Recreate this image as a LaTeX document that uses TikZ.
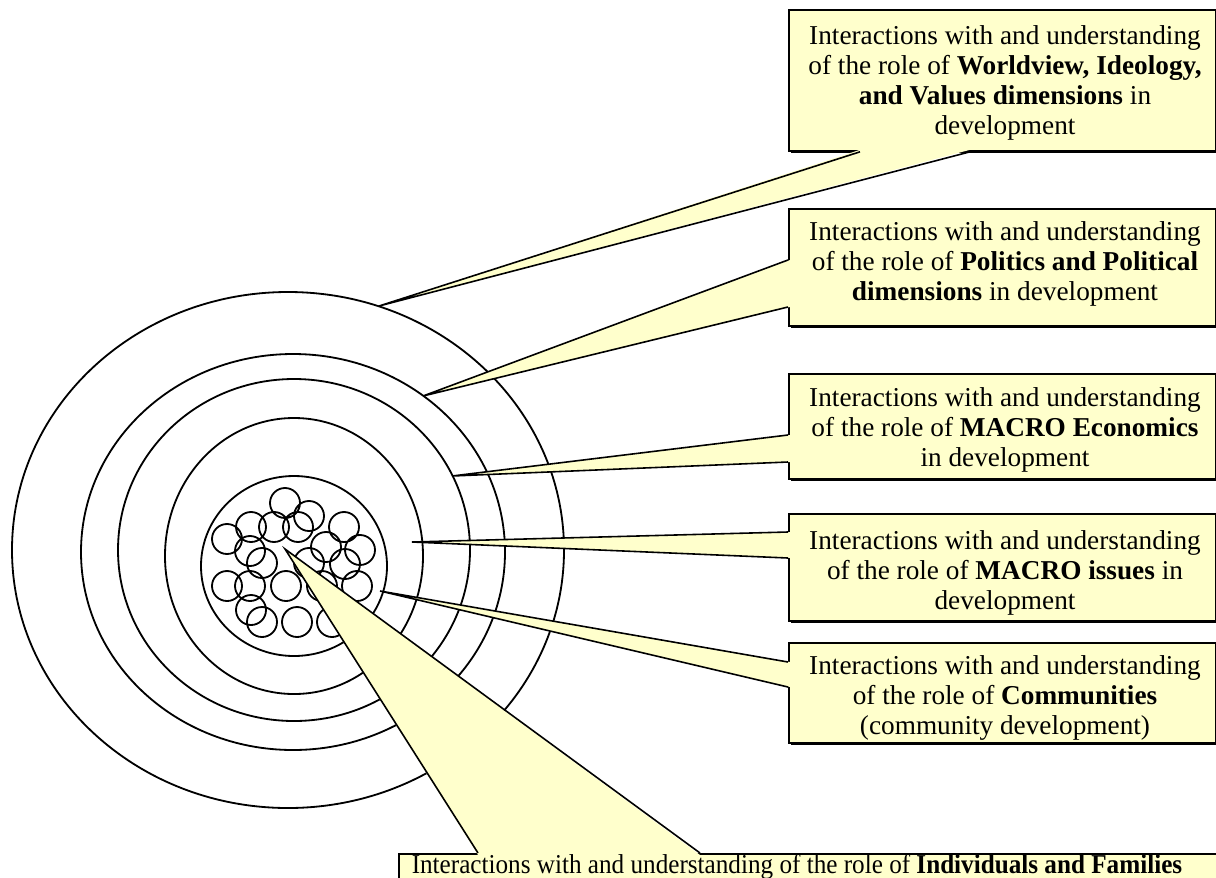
\documentclass[tikz,border=0pt]{standalone}
\usepackage{fontspec}
\setmainfont{Liberation Serif}
\usetikzlibrary{shadows,calc}
\definecolor{notefill}{HTML}{FFFFCC}

\begin{document}
\begin{tikzpicture}[x=0.44pt,y=-0.44pt,
  ring/.style={draw,line width=0.8pt},
  cell/.style={draw,line width=0.8pt},
  note/.style={draw,line width=0.8pt,fill=notefill,anchor=north west,inner sep=0pt,
    drop shadow={shadow xshift=0.8pt,shadow yshift=-0.8pt,opacity=1,fill=black}},
  notetext/.style={align=center,inner sep=0pt,font=\fontsize{12}{13.1}\selectfont},
  wedge/.style={fill=notefill},
  wedgeline/.style={line width=0.7pt}]
  \clip (0,0) rectangle (1216,877);

  \path[ring] (288,550) ellipse[x radius=276,y radius=258]
              (293,552) ellipse[x radius=212,y radius=198]
              (294,550) ellipse[x radius=176,y radius=171]
              (294,556) ellipse[x radius=129,y radius=138]
              (294,566) ellipse[x radius=93,y radius=90];
  \path[cell] (285,503) circle[radius=15] (309,516) circle[radius=15]
              (227,539) circle[radius=15] (251,527) circle[radius=15]
              (274,527) circle[radius=15] (298,527) circle[radius=15]
              (344,527) circle[radius=15] (250,551) circle[radius=15]
              (262,563) circle[radius=15] (326,547) circle[radius=15]
              (360,550) circle[radius=15] (345,564) circle[radius=15]
              (309,563) circle[radius=15] (227,586) circle[radius=15]
              (250,586) circle[radius=15] (286,586) circle[radius=15]
              (322,586) circle[radius=15] (357,586) circle[radius=15]
              (251,610) circle[radius=15] (262,622) circle[radius=15]
              (297,622) circle[radius=15] (332,622) circle[radius=15];

  \node[note,minimum width=427*0.44pt,minimum height=141*0.44pt] (wvbox)  at (788,9)   {};
  \node[note,minimum width=427*0.44pt,minimum height=117*0.44pt] (polbox) at (788,208) {};
  \node[note,minimum width=427*0.44pt,minimum height=105*0.44pt] (ecobox) at (788,373) {};
  \node[note,minimum width=427*0.44pt,minimum height=107*0.44pt] (macbox) at (788,513) {};
  \node[note,minimum width=427*0.44pt,minimum height=100*0.44pt] (combox) at (788,642) {};
  \node[note,minimum width=840*0.44pt,minimum height=60*0.44pt]  (indbox) at (398,853) {};

  \coordinate (wvtip)  at (379,306);
  \coordinate (poltip) at (423,396);
  \coordinate (ecotip) at (452,476);
  \coordinate (mactip) at (412,542);
  \coordinate (comtip) at (380,591);
  \coordinate (indtip) at (285,549);

  \fill[wedge] ($(wvbox.south west)+(72,-2)$) -- (wvtip) -- ($(wvbox.south west)+(182,-2)$) -- cycle;
  \draw[wedgeline] ($(wvbox.south west)+(72,0)$) -- (wvtip) -- ($(wvbox.south west)+(182,0)$);
  \fill[wedge] ($(polbox.north west)+(2,52)$) -- (poltip) -- ($(polbox.north west)+(2,99)$) -- cycle;
  \draw[wedgeline] ($(polbox.north west)+(0,52)$) -- (poltip) -- ($(polbox.north west)+(0,99)$);
  \fill[wedge] ($(ecobox.north west)+(2,62)$) -- (ecotip) -- ($(ecobox.north west)+(2,89)$) -- cycle;
  \draw[wedgeline] ($(ecobox.north west)+(0,62)$) -- (ecotip) -- ($(ecobox.north west)+(0,89)$);
  \fill[wedge] ($(macbox.north west)+(2,19)$) -- (mactip) -- ($(macbox.north west)+(2,45)$) -- cycle;
  \draw[wedgeline] ($(macbox.north west)+(0,19)$) -- (mactip) -- ($(macbox.north west)+(0,45)$);
  \fill[wedge] ($(combox.north west)+(2,20)$) -- (comtip) -- ($(combox.north west)+(2,45)$) -- cycle;
  \draw[wedgeline] ($(combox.north west)+(0,20)$) -- (comtip) -- ($(combox.north west)+(0,45)$);
  \fill[wedge] ($(indbox.north west)+(80,2)$) -- (indtip) -- ($(indbox.north west)+(302,2)$) -- cycle;
  \draw[wedgeline] ($(indbox.north west)+(80,0)$) -- (indtip) -- ($(indbox.north west)+(302,0)$);

  \node[notetext] (wvtext)  at (1005,83)  {Interactions with and understanding\\ of the role of \textbf{Worldview, Ideology,}\\ \textbf{and Values dimensions} in\\ development};
  \node[notetext] (poltext) at (1005,264) {Interactions with and understanding\\ of the role of \textbf{Politics and Political}\\ \textbf{dimensions} in development};
  \node[notetext] (ecotext) at (1005,430) {Interactions with and understanding\\ of the role of \textbf{MACRO Economics}\\ in development};
  \node[notetext] (mactext) at (1005,573) {Interactions with and understanding\\ of the role of \textbf{MACRO issues} in\\ development};
  \node[notetext] (comtext) at (1005,698) {Interactions with and understanding\\ of the role of \textbf{Communities}\\ (community development)};
  \node[notetext] (indtext) at (797,867)  {\scalebox{0.923}[1]{Interactions with and understanding of the role of \textbf{Individuals and Families}}};
\end{tikzpicture}
\end{document}
